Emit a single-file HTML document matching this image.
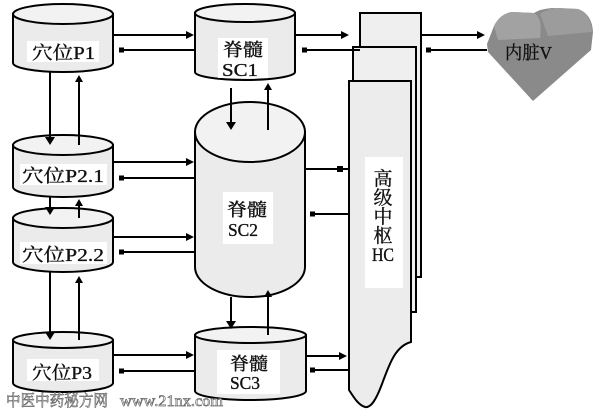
<!DOCTYPE html>
<html><head><meta charset="utf-8"><style>
html,body{margin:0;padding:0;background:#fff;}
svg{display:block;}
text{font-family:"Liberation Serif","Noto Serif CJK SC",serif;fill:#111;}
.lb{stroke:#111;stroke-width:0.35;}
</style></head><body>
<svg width="600" height="413" viewBox="0 0 600 413" xmlns="http://www.w3.org/2000/svg">
<g stroke="#000" stroke-width="2" fill="#ebebeb">
<!-- HC panels -->
<rect x="360" y="13" width="61" height="264" fill="#efefef"/>
<rect x="353" y="47" width="63" height="265" fill="#efefef"/>
<path d="M349,81 L411,81 L411,342 C396,346 390,362 382,384 C376,400 371,408 365,407 C358,405 353,396 349,390 Z" fill="#ececec"/>

<!-- P1 -->
<path d="M13,14 L13,63 A50,9 0 0 0 113,63 L113,14 Z"/>
<ellipse cx="63" cy="14" rx="50" ry="10" fill="#f2f2f2"/>
<!-- P2.1 -->
<path d="M13,145 L13,187 A50,10 0 0 0 113,187 L113,145 Z"/>
<ellipse cx="63" cy="145" rx="50" ry="10" fill="#f2f2f2"/>
<!-- P2.2 -->
<path d="M13,218 L13,262 A50,10 0 0 0 113,262 L113,218 Z"/>
<ellipse cx="63" cy="218" rx="50" ry="10" fill="#f2f2f2"/>
<!-- P3 -->
<path d="M13,340 L13,383 A50,9 0 0 0 113,383 L113,340 Z"/>
<ellipse cx="63" cy="340" rx="50" ry="8" fill="#f2f2f2"/>
<!-- SC1 -->
<path d="M195,13 L195,72 A50,8 0 0 0 295,72 L295,13 Z"/>
<ellipse cx="245" cy="13" rx="50" ry="9" fill="#f2f2f2"/>
<!-- SC2 -->
<path d="M195,132 L195,267 A55,30 0 0 0 305,267 L305,132 Z"/>
<ellipse cx="250" cy="132" rx="55" ry="30" fill="#f2f2f2"/>
<!-- SC3 -->
<path d="M195,335 L195,391 A55.5,9 0 0 0 306,391 L306,335 Z"/>
<ellipse cx="250.5" cy="335" rx="55.5" ry="8" fill="#f2f2f2"/>
</g>

<!-- white label boxes -->
<g fill="#fff">
<rect x="27" y="41" width="72" height="21"/>
<rect x="20" y="164" width="87" height="21"/>
<rect x="20" y="242" width="87" height="22"/>
<rect x="27" y="359" width="72" height="22"/>
<rect x="218" y="38" width="50" height="40"/>
<rect x="223" y="192" width="50" height="52"/>
<rect x="217" y="350" width="63" height="44"/>
<rect x="365" y="157" width="38" height="131"/>
</g>

<!-- heart -->
<path d="M487,44 L494,26 Q500,14 512,12 L534,13 Q540,9 552,8 L578,9 Q592,14 593,32 L591,50 L533,101 L488,52 Z" fill="#8a8a8a"/>
<path d="M494,26 Q500,14 512,12 L534,13 Q543,18 540,38 L498,40 Z" fill="#a2a2a2"/>
<path d="M540,14 Q548,8 560,8 L578,9 Q591,14 592,32 L548,36 Z" fill="#9c9c9c"/>

<!-- connectors -->
<g stroke="#000" stroke-width="2" fill="none">
<line x1="113" y1="35" x2="190" y2="35"/>
<line x1="195" y1="50" x2="122" y2="50"/>
<line x1="295" y1="35" x2="344" y2="35"/>
<line x1="360" y1="50" x2="305" y2="50"/>
<line x1="421" y1="35" x2="480" y2="35"/>
<line x1="487" y1="50" x2="428" y2="50"/>
<line x1="50" y1="72" x2="50" y2="138"/>
<line x1="79" y1="145" x2="79" y2="80"/>
<line x1="231" y1="88" x2="231" y2="123"/>
<line x1="268" y1="130" x2="268" y2="90"/>
<line x1="113" y1="162" x2="190" y2="162"/>
<line x1="195" y1="178" x2="122" y2="178"/>
<line x1="305" y1="169" x2="350" y2="169"/>
<line x1="350" y1="214" x2="312" y2="214"/>
<line x1="50" y1="197" x2="50" y2="209"/>
<line x1="79" y1="218" x2="79" y2="204"/>
<line x1="113" y1="237" x2="190" y2="237"/>
<line x1="195" y1="252" x2="122" y2="252"/>
<line x1="50" y1="272" x2="50" y2="333"/>
<line x1="79" y1="340" x2="79" y2="281"/>
<line x1="231" y1="297" x2="231" y2="322"/>
<line x1="268" y1="335" x2="268" y2="295"/>
<line x1="113" y1="355" x2="190" y2="355"/>
<line x1="195" y1="371" x2="122" y2="371"/>
<line x1="306" y1="356" x2="344" y2="356"/>
<line x1="350" y1="370" x2="312" y2="370"/>
</g>
<g fill="#000">
<polygon points="186,31 194,35 186,39"/>
<polygon points="341,31 349,35 341,39"/>
<polygon points="477,31 485,35 477,39"/>
<polygon points="186,158 194,162 186,166"/>
<polygon points="186,233 194,237 186,241"/>
<polygon points="186,351 194,355 186,359"/>
<polygon points="339,352 347,356 339,360"/>
<rect x="337" y="166" width="6" height="6"/>
<rect x="119" y="47.5" width="5" height="5"/>
<rect x="302" y="47.5" width="5" height="5"/>
<rect x="426" y="47.5" width="5" height="5"/>
<rect x="119" y="175.5" width="5" height="5"/>
<rect x="310" y="211.5" width="5" height="5"/>
<rect x="119" y="249.5" width="5" height="5"/>
<rect x="119" y="368.5" width="5" height="5"/>
<rect x="310" y="367.5" width="5" height="5"/>
<polygon points="45,137 55,137 50,145"/>
<polygon points="226,122 236,122 231,130"/>
<polygon points="45,207 55,207 50,215"/>
<polygon points="45,332 55,332 50,340"/>
<polygon points="226,321 236,321 231,329"/>
<polygon points="75,82 83,82 79,75"/>
<polygon points="264,90 272,90 268,83"/>
<polygon points="75,206 83,206 79,199"/>
<polygon points="75,283 83,283 79,276"/>
<polygon points="264,297 272,297 268,290"/>
</g>

<!-- labels -->
<g font-size="18" class="lb">
<text class="lb" x="32" y="59" textLength="63" lengthAdjust="spacingAndGlyphs">穴位P1</text>
<text class="lb" x="22" y="182" textLength="82" lengthAdjust="spacingAndGlyphs">穴位P2.1</text>
<text class="lb" x="22" y="261" textLength="82" lengthAdjust="spacingAndGlyphs">穴位P2.2</text>
<text class="lb" x="32" y="379" textLength="60" lengthAdjust="spacingAndGlyphs">穴位P3</text>
<text class="lb" x="223" y="56" textLength="40" lengthAdjust="spacingAndGlyphs">脊髓</text>
<text class="lb" x="222" y="76" textLength="36" lengthAdjust="spacingAndGlyphs">SC1</text>
<text class="lb" x="227" y="216" textLength="40" lengthAdjust="spacingAndGlyphs">脊髓</text>
<text class="lb" x="228" y="236" textLength="30" lengthAdjust="spacingAndGlyphs">SC2</text>
<text class="lb" x="230" y="370" textLength="38" lengthAdjust="spacingAndGlyphs">脊髓</text>
<text class="lb" x="230" y="389" textLength="30" lengthAdjust="spacingAndGlyphs">SC3</text>
<text class="lb" x="505" y="59" textLength="47" lengthAdjust="spacingAndGlyphs">内脏V</text>
</g>
<g font-size="19" text-anchor="middle">
<text class="lb" x="383" y="185">高</text>
<text class="lb" x="383" y="204">级</text>
<text class="lb" x="383" y="223">中</text>
<text class="lb" x="383" y="242">枢</text>
<text class="lb" x="383" y="261" textLength="22" lengthAdjust="spacingAndGlyphs">HC</text>
</g>

<!-- watermark -->
<g font-size="16" style="font-family:'Liberation Sans','Noto Sans CJK SC',sans-serif" stroke="#6a6a6a" stroke-width="0.7">
<text x="6" y="406" textLength="102" lengthAdjust="spacingAndGlyphs" style="fill:#fff">中医中药秘方网</text>
<text x="120" y="406" textLength="103" lengthAdjust="spacingAndGlyphs" style="fill:#fff">www.21nx.com</text>
</g>
</svg>
</body></html>
